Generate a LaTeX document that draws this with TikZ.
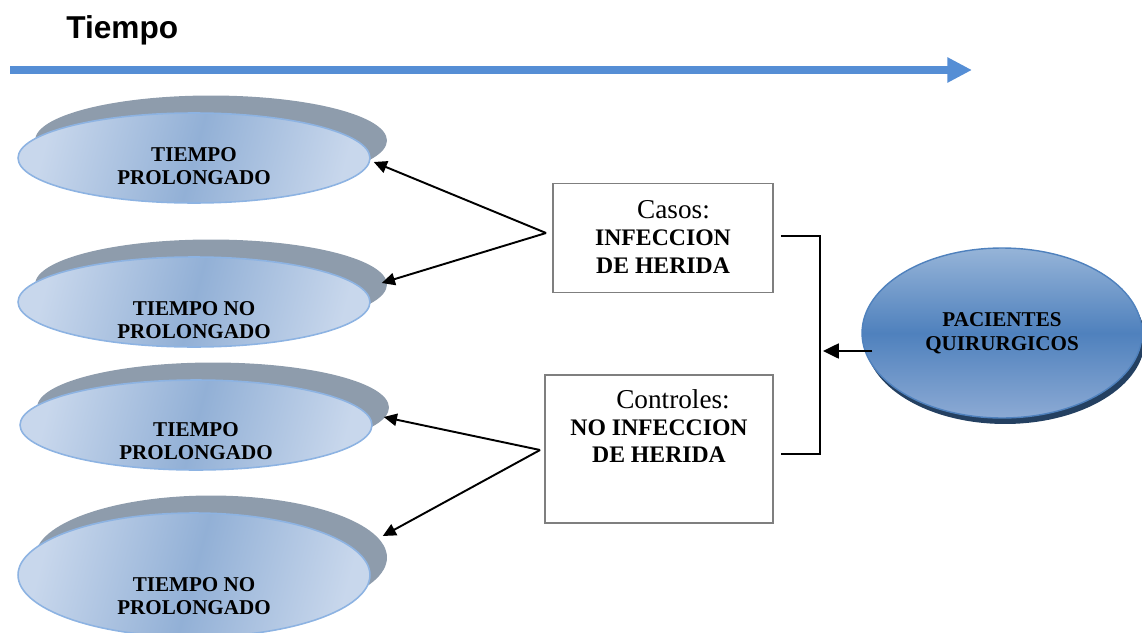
\documentclass[tikz,border=0pt]{standalone}
\usepackage{fontspec}
\setmainfont{Liberation Serif}
\newfontfamily\arialfont{Liberation Sans}
\usetikzlibrary{arrows.meta, shapes.geometric, shadows, positioning, calc}

\definecolor{lineablue}{RGB}{85,142,213}
\definecolor{sombragris}{RGB}{142,156,172}
\definecolor{elborde}{RGB}{141,179,226}
\definecolor{elclaro}{RGB}{200,215,236}
\definecolor{elmedio}{RGB}{146,176,214}
\definecolor{pacclaro}{RGB}{150,180,216}
\definecolor{pacmedio}{RGB}{79,129,189}
\definecolor{pacbajo}{RGB}{140,170,212}
\definecolor{pacsombra}{RGB}{36,64,97}
\definecolor{cajagris}{RGB}{127,127,127}

\begin{document}
\begin{tikzpicture}[x=0.02cm, y=-0.02cm,
    grupo/.style={ellipse, draw=elborde, line width=0.9pt, minimum width=7.04cm, minimum height=1.8cm, inner sep=0pt,
        left color=elclaro, right color=elclaro, middle color=elmedio, shading angle=75,
        general shadow={fill=sombragris, shadow xshift=0.34cm, shadow yshift=0.35cm}},
    txtgrupo/.style={font=\bfseries\fontsize{12}{13}\selectfont, align=center, inner sep=0pt},
    caja/.style={draw=cajagris, line width=1.1pt, fill=white},
    txtcaja/.style={font=\fontsize{13.5}{15.5}\selectfont, align=center, inner sep=0pt},
    flecha/.style={line width=1.1pt, -{Triangle[length=7.5pt, width=7pt]}}]
    \useasboundingbox (0,0) rectangle (1142,632);

    % eje de tiempo
    \node[font=\arialfont\bfseries\fontsize{18}{20}\selectfont, anchor=base west, inner sep=0pt] (titulo) at (66,38) {Tiempo};
    \coordinate (t0) at (10,70);
    \coordinate (t1) at (972,70);
    \draw[lineablue, line width=4.5pt, -{Triangle[length=14pt, width=13.5pt]}] (t0) -- (t1);

    % grupos de tiempo
    \node[grupo] (tp1) at (194,158) {};
    \node[grupo] (tnp1) at (194,302) {};
    \node[grupo] (tp2) at (196,425) {};
    \node[grupo, minimum height=2.48cm] (tnp2) at (194,575) {};
    \node[txtgrupo] (tp1t) at (194,166) {TIEMPO\\PROLONGADO};
    \node[txtgrupo] (tnp1t) at (194,320) {TIEMPO NO\\PROLONGADO};
    \node[txtgrupo] (tp2t) at (196,441) {TIEMPO\\PROLONGADO};
    \node[txtgrupo] (tnp2t) at (194,596) {TIEMPO NO\\PROLONGADO};

    % casos y controles
    \node[caja, minimum width=4.4cm, minimum height=2.18cm] (casos) at (663,238) {};
    \node[txtcaja] (casost) at (663,237) {\hspace*{12pt}{\fontsize{15.5}{15.5}\selectfont Casos:}\\\textbf{INFECCION}\\\textbf{DE HERIDA}};
    \node[caja, minimum width=4.56cm, minimum height=2.96cm] (ctrl) at (659,449) {};
    \node[txtcaja] (ctrlt) at (659,426) {\hspace*{16pt}{\fontsize{15.5}{15.5}\selectfont Controles:}\\\textbf{NO INFECCION}\\\textbf{DE HERIDA}};

    % poblacion
    \node[ellipse, minimum width=5.6cm, minimum height=3.4cm, inner sep=0pt, draw=pacmedio, line width=0.8pt,
        top color=pacclaro, bottom color=pacbajo, middle color=pacmedio,
        general shadow={fill=pacsombra, shadow xshift=0.06cm, shadow yshift=-0.12cm},
        font=\bfseries\fontsize{12}{13.5}\selectfont, align=center] (pac) at (1002,333) {PACIENTES\\QUIRURGICOS};

    % conexiones
    \coordinate (cs) at ([shift={(-6,-5)}]casos.west);
    \coordinate (cc) at ([shift={(-4,1)}]ctrl.west);
    \draw[flecha] (cs) -- ([shift={(3,4)}]tp1.east);
    \draw[flecha] (cs) -- ([shift={(11,-19)}]tnp1.east);
    \draw[flecha] (cc) -- ([shift={(11,-8)}]tp2.east);
    \draw[flecha] (cc) -- ([shift={(12,-39)}]tnp2.east);
    \draw[line width=1.1pt] ([shift={(7,-2)}]casos.east) -- ++(39,0) coordinate (llave) |- ([shift={(7,5)}]ctrl.east);
    \draw[flecha, -{Triangle[length=9pt, width=8.5pt]}, shorten >=1.7pt] ([shift={(11,18)}]pac.west) coordinate (p0) -- (p0 -| llave);
\end{tikzpicture}
\end{document}
